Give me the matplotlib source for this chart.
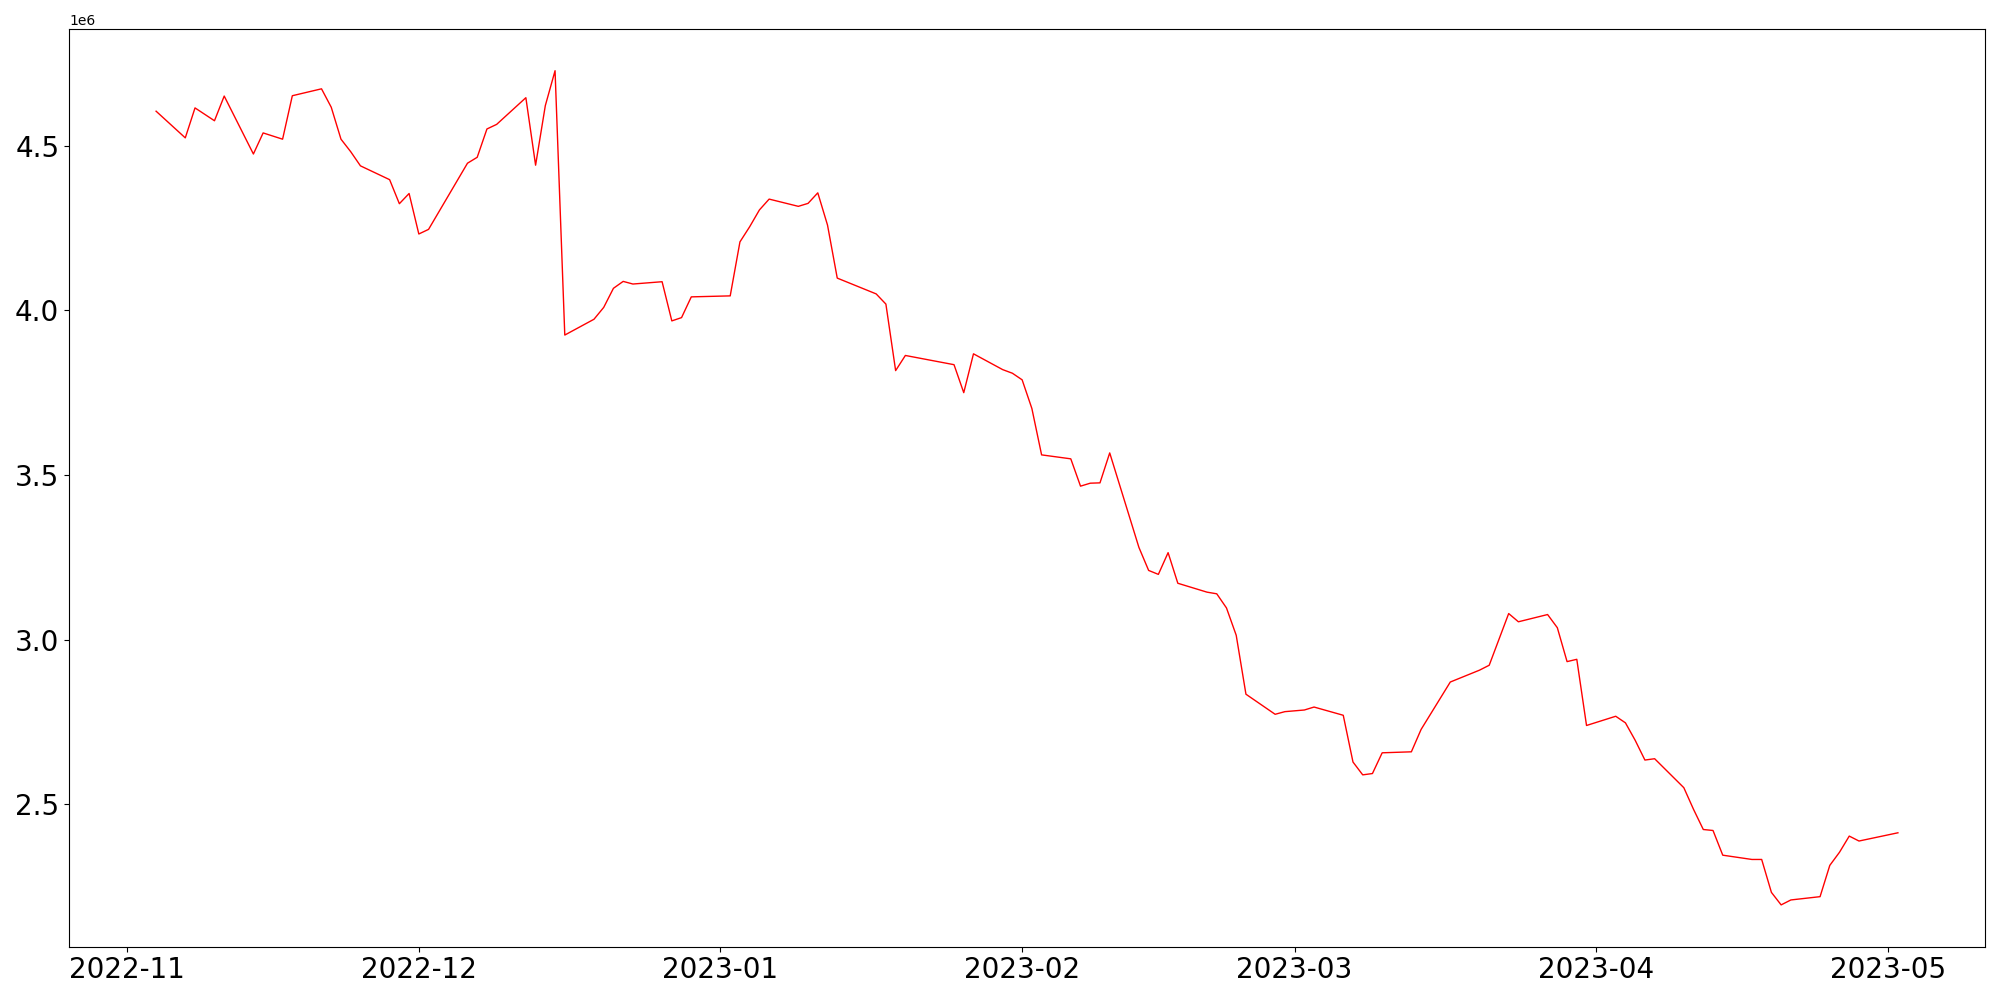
import numpy as np
import pandas as pd
import matplotlib
matplotlib.use("Agg")
import matplotlib.pyplot as plt
import matplotlib.dates as mdates

# daily closes (values in units of 1e6)
dates = [
    "2022-11-04", "2022-11-07", "2022-11-08", "2022-11-10", "2022-11-11",
    "2022-11-14", "2022-11-15", "2022-11-17", "2022-11-18", "2022-11-21",
    "2022-11-22", "2022-11-23", "2022-11-24", "2022-11-25", "2022-11-28",
    "2022-11-29", "2022-11-30", "2022-12-01", "2022-12-02", "2022-12-06",
    "2022-12-07", "2022-12-08", "2022-12-09", "2022-12-12", "2022-12-13",
    "2022-12-14", "2022-12-15", "2022-12-16", "2022-12-19", "2022-12-20",
    "2022-12-21", "2022-12-22", "2022-12-23", "2022-12-26", "2022-12-27",
    "2022-12-28", "2022-12-29", "2023-01-02", "2023-01-03", "2023-01-04",
    "2023-01-05", "2023-01-06", "2023-01-09", "2023-01-10", "2023-01-11",
    "2023-01-12", "2023-01-13", "2023-01-17", "2023-01-18", "2023-01-19",
    "2023-01-20", "2023-01-25", "2023-01-26", "2023-01-27", "2023-01-30",
    "2023-01-31", "2023-02-01", "2023-02-02", "2023-02-03", "2023-02-06",
    "2023-02-07", "2023-02-08", "2023-02-09", "2023-02-10", "2023-02-13",
    "2023-02-14", "2023-02-15", "2023-02-16", "2023-02-17", "2023-02-20",
    "2023-02-21", "2023-02-22", "2023-02-23", "2023-02-24", "2023-02-27",
    "2023-02-28", "2023-03-02", "2023-03-03", "2023-03-06", "2023-03-07",
    "2023-03-08", "2023-03-09", "2023-03-10", "2023-03-13", "2023-03-14",
    "2023-03-15", "2023-03-17", "2023-03-20", "2023-03-21", "2023-03-23",
    "2023-03-24", "2023-03-27", "2023-03-28", "2023-03-29", "2023-03-30",
    "2023-03-31", "2023-04-03", "2023-04-04", "2023-04-05", "2023-04-06",
    "2023-04-07", "2023-04-10", "2023-04-11", "2023-04-12", "2023-04-13",
    "2023-04-14", "2023-04-17", "2023-04-18", "2023-04-19", "2023-04-20",
    "2023-04-21", "2023-04-24", "2023-04-25", "2023-04-26", "2023-04-27",
    "2023-04-28", "2023-05-02",
]

values = [
    4.605, 4.524, 4.615, 4.576, 4.651,
    4.475, 4.539, 4.520, 4.652, 4.673,
    4.617, 4.520, 4.482, 4.439, 4.397,
    4.324, 4.355, 4.232, 4.246, 4.447,
    4.465, 4.551, 4.565, 4.646, 4.441,
    4.622, 4.728, 3.925, 3.973, 4.009,
    4.067, 4.088, 4.080, 4.087, 3.968,
    3.978, 4.041, 4.044, 4.208, 4.254,
    4.305, 4.338, 4.316, 4.325, 4.357,
    4.259, 4.098, 4.050, 4.019, 3.817,
    3.863, 3.835, 3.750, 3.868, 3.820,
    3.809, 3.789, 3.702, 3.561, 3.549,
    3.466, 3.475, 3.476, 3.567, 3.280,
    3.210, 3.198, 3.264, 3.171, 3.144,
    3.139, 3.096, 3.013, 2.834, 2.773,
    2.781, 2.786, 2.795, 2.770, 2.628,
    2.589, 2.593, 2.656, 2.659, 2.727,
    2.775, 2.871, 2.907, 2.922, 3.079,
    3.054, 3.076, 3.036, 2.933, 2.940,
    2.739, 2.767, 2.747, 2.694, 2.634,
    2.638, 2.550, 2.484, 2.423, 2.420,
    2.345, 2.332, 2.332, 2.232, 2.194,
    2.209, 2.219, 2.314, 2.354, 2.403,
    2.388, 2.413,
]

x = pd.to_datetime(dates)
y = np.array(values) * 1e6

fig = plt.figure(figsize=(20, 10), dpi=100)
ax = fig.add_subplot(111)
ax.plot(x, y, color="red", linewidth=1)

ax.xaxis.set_major_locator(mdates.MonthLocator())
ax.xaxis.set_major_formatter(mdates.DateFormatter("%Y-%m"))
plt.xticks(fontsize=20)
plt.yticks(fontsize=20)

fig.subplots_adjust(left=0.0345, right=0.9925, top=0.971, bottom=0.0534)
fig.savefig("out.png")
